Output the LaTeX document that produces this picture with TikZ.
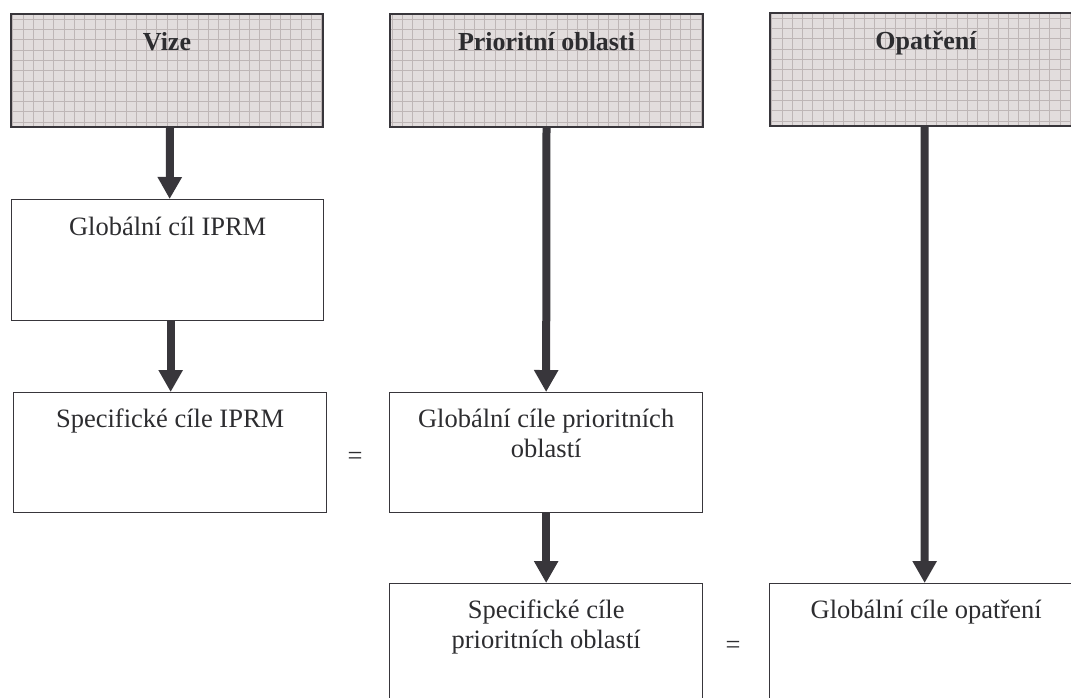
\documentclass[tikz,border=0pt]{standalone}
\usepackage{fontspec}
\setmainfont{Liberation Serif}
\usetikzlibrary{arrows.meta}
\definecolor{hdrfill}{RGB}{226,221,221}
\definecolor{hdrgrid}{RGB}{190,182,182}
\definecolor{linec}{RGB}{56,54,59}
\definecolor{textc}{RGB}{45,45,48}
\tikzset{
  hdrbox/.style={draw=linec, line width=2pt, fill=hdrfill, inner sep=0pt,
    minimum width=312pt, minimum height=113pt, anchor=north west,
    path picture={\draw[hdrgrid, line width=0.6pt, step=10.3pt]
      (path picture bounding box.south west) grid (path picture bounding box.north east);}},
  plainbox/.style={draw=linec, line width=1.3pt, fill=white, inner sep=0pt,
    minimum width=312pt, anchor=north west},
  txt/.style={inner sep=0pt, text=textc, font=\fontsize{26.5pt}{30pt}\selectfont},
  hdrtxt/.style={txt, font=\fontsize{26pt}{30pt}\selectfont\bfseries},
  bigarrow/.style={draw=linec, line width=8pt,
    -{Triangle[width=23pt,length=22pt]}}
}
\begin{document}
\begin{tikzpicture}[x=1pt,y=-1pt]
\useasboundingbox (0,0) rectangle (1071,697);
\clip (0,0) rectangle (1071,697);
\fill[white] (0,0) rectangle (1071,697);

% header boxes
\node[hdrbox] (vize) at (10,13) {};
\node[hdrbox, minimum width=313pt] (prio) at (389,13) {};
\node[hdrbox] (opat) at (769,12) {};
\node[hdrtxt, anchor=base] (tvize) at ([yshift=-37pt]vize.north) {Vize};
\node[hdrtxt, anchor=base] (tprio) at ([yshift=-37pt]prio.north) {Prioritní oblasti};
\node[hdrtxt, anchor=base] (topat) at ([yshift=-37pt]opat.north) {Opatření};

% lower boxes
\node[plainbox, minimum height=121pt] (gciprm) at (11,199) {};
\node[plainbox, minimum width=313pt, minimum height=120pt] (sciprm) at (13,392) {};
\node[plainbox, minimum width=313pt, minimum height=120pt] (gcpo) at (389,392) {};
\node[plainbox, minimum width=313pt, minimum height=122pt] (scpo) at (389,583) {};
\node[plainbox, minimum width=313pt, minimum height=122pt] (gco) at (769,583) {};

\node[txt, anchor=base] (tgciprm) at ([yshift=-36pt]gciprm.north) {Globální cíl IPRM};
\node[txt, anchor=base] (tsciprm) at ([yshift=-35pt]sciprm.north) {Specifické cíle IPRM};
\node[txt, anchor=base] (tgcpo) at ([yshift=-35pt]gcpo.north)
  {\begin{tabular}[t]{@{}c@{}}Globální cíle prioritních\\oblastí\end{tabular}};
\node[txt, anchor=base] (tscpo) at ([yshift=-35pt]scpo.north)
  {\begin{tabular}[t]{@{}c@{}}Specifické cíle\\prioritních oblastí\end{tabular}};
\node[txt, anchor=base] (tgco) at ([yshift=-35pt]gco.north) {Globální cíle opatření};

% equal signs
\node[txt, anchor=center] (eq1) at (355,458) {=};
\node[txt, anchor=center] (eq2) at (733,647) {=};

% arrows
\draw[bigarrow] ([xshift=3pt]vize.south) -- ([xshift=2pt]gciprm.north);
\draw[bigarrow] ([xshift=3pt]gciprm.south) -- ([xshift=0.5pt]sciprm.north);
\draw[bigarrow] (prio.south) -- (gcpo.north);
\draw[bigarrow] (gcpo.south) -- (scpo.north);
\draw[bigarrow] ([xshift=-1.5pt]opat.south) -- ([xshift=-1.5pt]gco.north);
\end{tikzpicture}
\end{document}
